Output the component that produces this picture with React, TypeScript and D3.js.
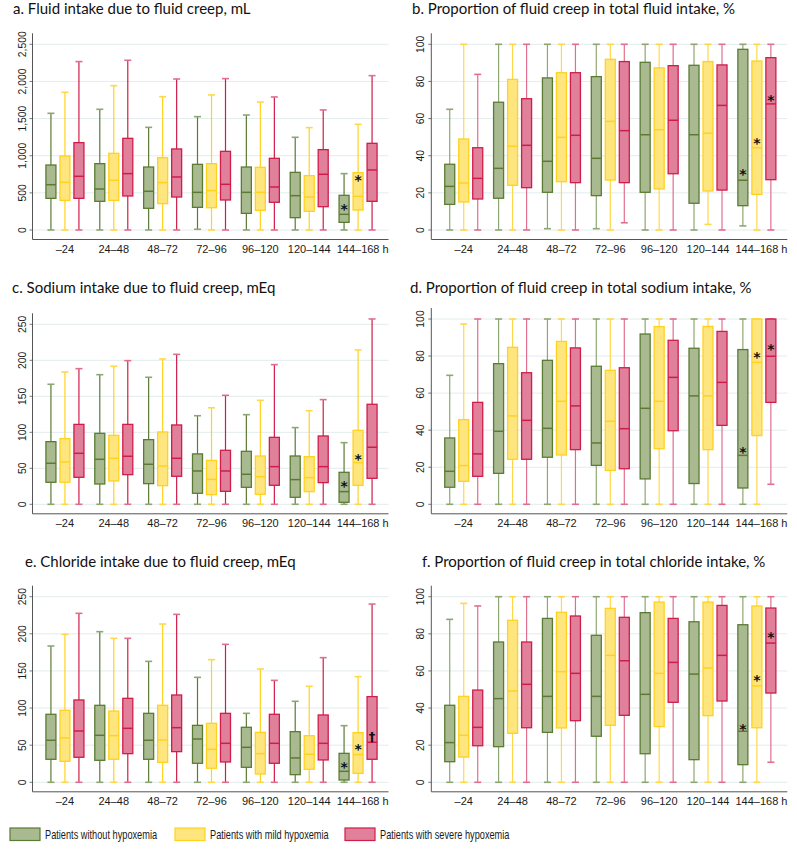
import React from "react";
import { scaleLinear, scaleBand, format, range } from "d3";

// time windows (hours after injury)
const groups = ["–24", "24–48", "48–72", "72–96", "96–120", "120–144", "144–168"];
const seriesNames = [
  "Patients without hypoxemia",
  "Patients with mild hypoxemia",
  "Patients with severe hypoxemia",
];

// each row: [min, q1, median, q3, max]
const fluidNone = [[0, 426, 610, 875, 1571], [0, 386, 552, 893, 1625], [0, 292, 521, 848, 1382], [10, 305, 507, 884, 1526], [0, 224, 507, 848, 1548], [0, 166, 462, 776, 1248], [0, 103, 211, 467, 759]];
const fluidMild = [[0, 399, 642, 996, 1854], [0, 399, 669, 1032, 1943], [0, 355, 637, 974, 1795], [0, 300, 530, 893, 1818], [0, 265, 507, 844, 1723], [0, 251, 444, 732, 1378], [0, 269, 453, 772, 1423]];
const fluidSevere = [[0, 426, 723, 1176, 2267], [0, 458, 759, 1234, 2285], [0, 444, 714, 1091, 2033], [0, 404, 615, 1059, 2038], [0, 373, 579, 965, 1791], [0, 314, 750, 1082, 1616], [0, 386, 808, 1167, 2078]];

const fluidPctNone = [[0, 13.8, 23.5, 35.4, 65], [0, 17.1, 33.2, 68.8, 100], [0.7, 20.3, 37, 81.9, 100], [0.7, 18.5, 38.6, 82.6, 100], [0, 20.3, 51.3, 90.3, 100], [0, 14.4, 51.3, 88.7, 100], [2.2, 13.1, 26.8, 97.3, 100]];
const fluidPctMild = [[0, 15.1, 25.3, 49, 100], [0, 24.1, 45.1, 81.1, 100], [0, 26, 49.9, 84.7, 100], [0, 26.9, 58.5, 91.9, 100], [0, 22.1, 54, 87.3, 100], [3, 21, 52.1, 90.7, 100], [0, 19.2, 44.3, 91, 100]];
const fluidPctSevere = [[0, 16.7, 27.8, 44.3, 83.8], [0, 22.8, 45.6, 70.7, 100], [0, 25.5, 51, 84.7, 100], [3.9, 25.5, 53.5, 90.7, 100], [0, 30.3, 59.1, 88.5, 100], [0, 21.5, 67.1, 88.9, 100], [0, 27.1, 67.9, 92.8, 100]];

const sodiumNone = [[0, 30.6, 57, 87, 166.7], [0, 28.2, 62.5, 98.6, 180], [0, 28.7, 55.6, 89.8, 176.4], [0, 15.3, 46.3, 70, 123], [0, 23.6, 41.7, 73.6, 124.5], [0, 9.7, 34.3, 67.1, 106.5], [0, 2.8, 17.6, 44.4, 85.6]];
const sodiumMild = [[0, 30.6, 58.8, 91.2, 183.8], [0, 32.4, 63.9, 95.8, 191.7], [0, 25.9, 53.2, 100.5, 201.9], [0, 13.4, 34.7, 61, 134], [0, 13.9, 38.4, 67.1, 144.4], [0, 17.6, 37, 66.2, 130], [0, 26.4, 57.9, 102.8, 214.4]];
const sodiumSevere = [[0, 37.5, 70.8, 111, 188.4], [0, 41.2, 66.7, 111, 199.5], [0, 38.9, 63.9, 110.2, 208.3], [0, 18, 46.3, 75, 151.4], [0, 26.4, 52.3, 93, 194], [0, 30.1, 52.3, 94.9, 145.4], [0, 36.1, 79.2, 138.9, 257.4]];

const sodiumPctNone = [[0, 9.2, 17.8, 35.8, 69.6], [0, 16.7, 39.4, 75.9, 100], [0, 25.4, 41, 77.7, 100], [0, 21, 33.1, 74.5, 100], [0, 13.7, 51.8, 91.9, 100], [0, 11.2, 58.5, 84.2, 100], [0, 8.8, 26.4, 83.5, 100]];
const sodiumPctMild = [[0, 12.4, 20.9, 45.7, 97.3], [0, 24.3, 47.7, 84.7, 100], [0, 26.6, 55.6, 87.9, 100], [0, 18.3, 44.8, 72.3, 100], [0, 30, 55.6, 95.9, 100], [0, 29.5, 58.5, 96, 100], [0, 37.1, 76.6, 100, 100]];
const sodiumPctSevere = [[0, 15.1, 27.2, 55, 100], [0, 24.3, 45.3, 71, 100], [0, 29.5, 53.1, 84.4, 100], [0, 19.2, 40.8, 73.7, 100], [0, 39.7, 68.5, 88.5, 100], [0, 42.6, 65.8, 93.3, 100], [10.8, 55, 79.9, 100, 100]];

const chlorideNone = [[0, 31, 56.6, 91.6, 183.6], [0, 29.6, 63.3, 103.7, 202.9], [0, 31, 56.6, 92.9, 162.9], [0, 25.6, 58.3, 76.7, 141.4], [0, 20.2, 47.1, 74.1, 92.9], [0, 10.3, 32.8, 68.2, 109.1], [0, 3.1, 14.8, 39, 76.3]];
const chlorideMild = [[0, 28.3, 59.7, 97, 199.3], [0, 31, 62.8, 96, 193.9], [0, 26.9, 57, 103.7, 213.2], [0, 18.9, 44.4, 79.4, 165.2], [0, 11.2, 38.6, 67.3, 152.6], [0, 17.5, 37.7, 62.8, 129.3], [0, 12.1, 37.3, 66.9, 142.3]];
const chlorideSevere = [[0, 33.7, 69.1, 110.9, 227.6], [0, 38.6, 72.7, 113.1, 193.9], [0, 41.3, 73.6, 117.6, 226.2], [0, 27.4, 52.5, 92.9, 185.8], [0, 25.6, 52.5, 91.6, 137.3], [0, 30.1, 52.5, 90.7, 167.9], [0, 31, 53.9, 115.4, 240.1]];

const chloridePctNone = [[0, 11.1, 21.4, 41.5, 87.8], [0, 19.2, 45.1, 75.6, 100], [0, 26.9, 46.3, 88.3, 100], [0, 24.8, 46.3, 79.2, 100], [0, 15.4, 47.4, 91.4, 100], [0, 12.2, 58.3, 86.5, 100], [0, 9.5, 27.5, 84.9, 100]];
const chloridePctMild = [[0, 13.6, 25.3, 46.3, 96.4], [0, 26.4, 49.2, 87.3, 100], [0, 29.3, 59.6, 91.6, 100], [0, 30.7, 68.4, 93.7, 100], [0, 30, 58.7, 97.1, 100], [0, 35.9, 61.6, 97.1, 100], [0, 29.4, 51.9, 95, 100]];
const chloridePctSevere = [[0, 19.7, 29.6, 49.7, 95], [0, 29.4, 52.8, 75.6, 100], [0, 33.2, 58.7, 89.6, 100], [0, 36.1, 65.5, 88.9, 100], [0, 43.1, 64.6, 88.3, 100], [0, 43.8, 68.4, 95.3, 100], [10.8, 48.1, 75, 93.9, 100]];

// significance markers: [panel, group index, series index, symbol, value]
const markers: [string, number, number, string, number][] = [
  ["a", 6, 0, "*", 314], ["a", 6, 1, "*", 696],
  ["b", 6, 0, "*", 31], ["b", 6, 1, "*", 48], ["b", 6, 2, "*", 70.9],
  ["c", 6, 0, "*", 28.7], ["c", 6, 1, "*", 65.7],
  ["d", 6, 0, "*", 29.5], ["d", 6, 1, "*", 80.6], ["d", 6, 2, "*", 84.9],
  ["e", 6, 0, "*", 22.9], ["e", 6, 1, "*", 48], ["e", 6, 2, "†", 62.8],
  ["f", 6, 0, "*", 30], ["f", 6, 1, "*", 56], ["f", 6, 2, "*", 79.4],
];

const fills = ["#a9ba91", "#ffe57e", "#e0809a"];
const strokes = ["#5b7b34", "#ffd21f", "#cf1d4a"];
const lightStrokes = ["#8ea772", "#ffd84a", "#e06f8f"];

const axisFont = "'Liberation Sans', Arial, sans-serif";
const titleFont = "Lato, 'Open Sans', sans-serif";

const colAxisX = [32.5, 431.3];
const plotW = 356;

const panels = [
  { key: "a", title: "a. Fluid intake due to fluid creep, mL", data: [fluidNone, fluidMild, fluidSevere], max: 2500, step: 500, col: 0, titleX: 13, titleY: 14, zeroPx: 230, topPx: 44.3, pct: false },
  { key: "b", title: "b. Proportion of fluid creep in total fluid intake, %", data: [fluidPctNone, fluidPctMild, fluidPctSevere], max: 100, step: 20, col: 1, titleX: 412, titleY: 14, zeroPx: 230, topPx: 44.3, pct: true },
  { key: "c", title: "c. Sodium intake due to fluid creep, mEq", data: [sodiumNone, sodiumMild, sodiumSevere], max: 250, step: 50, col: 0, titleX: 12, titleY: 293, zeroPx: 504.3, topPx: 324.3, pct: false },
  { key: "d", title: "d. Proportion of fluid creep in total sodium intake, %", data: [sodiumPctNone, sodiumPctMild, sodiumPctSevere], max: 100, step: 20, col: 1, titleX: 410, titleY: 293, zeroPx: 504.3, topPx: 319, pct: true },
  { key: "e", title: "e. Chloride intake due to fluid creep, mEq", data: [chlorideNone, chlorideMild, chlorideSevere], max: 250, step: 50, col: 0, titleX: 25, titleY: 567, zeroPx: 782.3, topPx: 596.7, pct: false },
  { key: "f", title: "f. Proportion of fluid creep in total chloride intake, %", data: [chloridePctNone, chloridePctMild, chloridePctSevere], max: 100, step: 20, col: 1, titleX: 422, titleY: 567, zeroPx: 782.3, topPx: 596.7, pct: true },
];

// text squeezed horizontally, the source figure uses a narrow face
const NarrowText = ({ x, y, sx, rot, size, anchor, children }: any) => (
  <text transform={`translate(${x},${y})${rot ? ` rotate(${rot})` : ""} scale(${sx},1)`}
    textAnchor={anchor || "start"} fontFamily={axisFont} fontSize={size} fill="#1a1a1a">{children}</text>
);

const Panel = ({ p }: { p: any }) => {
  const axisX = colAxisX[p.col];
  const x = scaleBand().domain(groups).range([axisX + 8, axisX + 350]);
  const inner = scaleBand().domain(["0", "1", "2"]).range([-21, 21]);
  const y = scaleLinear().domain([0, p.max]).range([p.zeroPx, p.topPx]);
  const ticks = range(0, p.max + 1, p.step);
  const fmt = format(",");
  const bottomY = p.zeroPx + 9.5;
  const boxW = 10;
  const capW = 7;
  const cx = (g: number, s: number) =>
    (x(groups[g]) as number) + x.bandwidth() / 2 + (inner(String(s)) as number) + inner.bandwidth() / 2;

  return (
    <g>
      <text x={p.titleX} y={p.titleY} fontFamily={titleFont} fontSize={15} fill="#111">{p.title}</text>
      {ticks.map((t) => (
        <g key={t}>
          <line x1={axisX} x2={axisX + plotW} y1={y(t)} y2={y(t)} stroke="#e3ecee" strokeWidth={1} />
          <line x1={axisX - 3} x2={axisX} y1={y(t)} y2={y(t)} stroke="#555" strokeWidth={0.8} />
          <NarrowText x={axisX - 7} y={y(t)} rot={-90} sx={0.9} size={11.5} anchor="middle">{fmt(t)}</NarrowText>
        </g>
      ))}
      <line x1={axisX} x2={axisX} y1={p.topPx - 11} y2={bottomY} stroke="#555" strokeWidth={1} />
      <line x1={axisX} x2={axisX + plotW} y1={bottomY} y2={bottomY} stroke="#555" strokeWidth={1} />
      {groups.map((g) => (
        <NarrowText key={g} x={(x(g) as number) + x.bandwidth() / 2} y={bottomY + 13} sx={1} size={11} anchor="middle">{g}</NarrowText>
      ))}
      <NarrowText x={axisX + plotW - 3} y={bottomY + 13} sx={1} size={11} anchor="middle">h</NarrowText>
      {p.data.map((series: number[][], s: number) =>
        series.map((d, g) => {
          const c = cx(g, s);
          const [mn, q1, md, q3, mx] = d;
          const wStroke = p.pct ? lightStrokes[s] : strokes[s];
          return (
            <g key={`${s}-${g}`}>
              <line x1={c} x2={c} y1={y(mx)} y2={y(q3)} stroke={wStroke} strokeWidth={1.2} />
              <line x1={c} x2={c} y1={y(q1)} y2={y(mn)} stroke={wStroke} strokeWidth={1.2} />
              <line x1={c - capW / 2} x2={c + capW / 2} y1={y(mx)} y2={y(mx)} stroke={lightStrokes[s]} strokeWidth={1.6} />
              <line x1={c - capW / 2} x2={c + capW / 2} y1={y(mn)} y2={y(mn)} stroke={lightStrokes[s]} strokeWidth={1.6} />
              <rect x={c - boxW / 2} y={y(q3)} width={boxW} height={Math.max(0.5, y(q1) - y(q3))}
                fill={fills[s]} stroke={strokes[s]} strokeWidth={1.3} />
              <line x1={c - boxW / 2} x2={c + boxW / 2} y1={y(md)} y2={y(md)} stroke={strokes[s]} strokeWidth={1.5} />
            </g>
          );
        })
      )}
      {markers.filter((m) => m[0] === p.key).map((m, i) => (
        <text key={i} x={cx(m[1], m[2])} y={y(m[4]) + (m[3] === "*" ? 7 : 5)} textAnchor="middle"
          fontFamily="'DejaVu Sans', sans-serif" fontSize={m[3] === "*" ? 14 : 13} fontWeight="bold" fill="#111">{m[3]}</text>
      ))}
    </g>
  );
};

export default function App() {
  const legendX = [10, 175, 345];
  return (
    <svg width={797} height={851} style={{ display: "block", position: "absolute", left: 0, top: 0, background: "#fff" }}>
      <rect width={797} height={851} fill="#fff" />
      {panels.map((p) => <Panel key={p.key} p={p} />)}
      {seriesNames.map((name, i) => (
        <g key={name}>
          <rect x={legendX[i]} y={828} width={30} height={12.5} fill={fills[i]} stroke={strokes[i]} strokeWidth={1.2} />
          <NarrowText x={legendX[i] + 35} y={838.5} sx={0.72} size={12.8}>{name}</NarrowText>
        </g>
      ))}
    </svg>
  );
}
